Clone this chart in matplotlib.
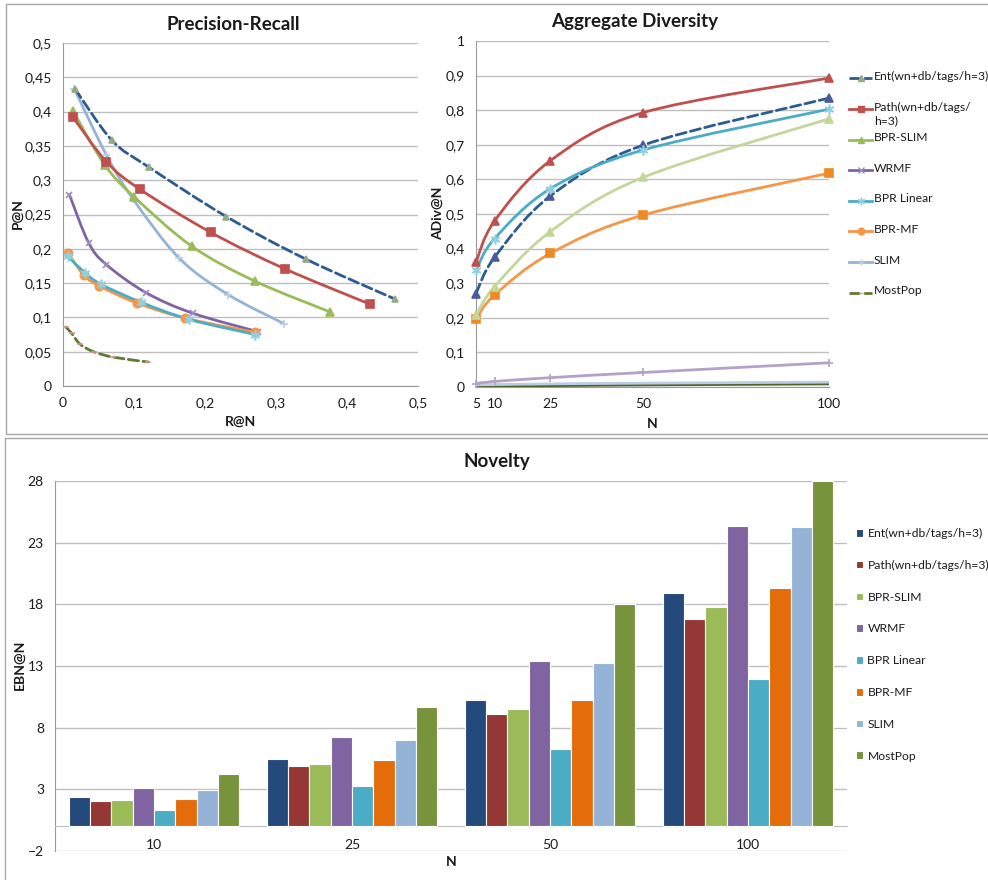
import numpy as np
import matplotlib.pyplot as plt
from matplotlib.path import Path
from matplotlib.patches import PathPatch, Rectangle
from matplotlib.lines import Line2D
from matplotlib.ticker import FuncFormatter

plt.rcParams['font.family'] = ['Lato', 'DejaVu Sans']

names = ['Ent(wn+db/tags/h=3)', 'Path(wn+db/tags/h=3)', 'BPR-SLIM', 'WRMF',
         'BPR Linear', 'BPR-MF', 'SLIM', 'MostPop']

# precision / recall pairs
rec_ent = [0.017, 0.069, 0.121, 0.230, 0.342, 0.467]
prec_ent = [0.433, 0.358, 0.319, 0.247, 0.185, 0.127]
rec_path = [0.014, 0.061, 0.108, 0.208, 0.312, 0.433]
prec_path = [0.392, 0.327, 0.287, 0.224, 0.171, 0.119]
rec_bprslim = [0.014, 0.059, 0.100, 0.181, 0.270, 0.376]
prec_bprslim = [0.401, 0.322, 0.276, 0.204, 0.153, 0.108]
rec_wrmf = [0.009, 0.036, 0.061, 0.117, 0.183, 0.275]
prec_wrmf = [0.279, 0.209, 0.177, 0.136, 0.106, 0.079]
rec_bprlin = [0.007, 0.031, 0.054, 0.110, 0.178, 0.271]
prec_bprlin = [0.189, 0.165, 0.148, 0.122, 0.097, 0.075]
rec_bprmf = [0.007, 0.029, 0.051, 0.104, 0.172, 0.271]
prec_bprmf = [0.194, 0.162, 0.146, 0.121, 0.099, 0.078]
rec_slim = [0.016, 0.061, 0.099, 0.164, 0.233, 0.311]
prec_slim = [0.433, 0.337, 0.272, 0.186, 0.133, 0.091]
rec_pop = [0.004, 0.012, 0.024, 0.043, 0.071, 0.120]
prec_pop = [0.086, 0.077, 0.061, 0.050, 0.042, 0.035]

# aggregate diversity
n_vals = [5, 10, 25, 50, 100]
adiv_ent = [0.270, 0.375, 0.552, 0.699, 0.835]
adiv_path = [0.360, 0.480, 0.654, 0.793, 0.893]
adiv_bprslim = [0.208, 0.290, 0.449, 0.606, 0.775]
adiv_wrmf = [0.010, 0.016, 0.027, 0.042, 0.070]
adiv_bprlin = [0.338, 0.429, 0.573, 0.685, 0.803]
adiv_bprmf = [0.197, 0.266, 0.386, 0.497, 0.618]
adiv_slim = [0.006, 0.007, 0.009, 0.011, 0.014]
adiv_pop = [0.002, 0.003, 0.004, 0.006, 0.009]

# novelty (EBN@N), one list per N, methods in the order of names
groups = ['10', '25', '50', '100']
ebn_10 = [2.35, 2.08, 2.14, 3.11, 1.35, 2.22, 2.98, 4.22]
ebn_25 = [5.46, 4.87, 5.06, 7.22, 3.27, 5.38, 7.03, 9.71]
ebn_50 = [10.25, 9.09, 9.52, 13.39, 6.30, 10.28, 13.28, 17.99]
ebn_100 = [18.88, 16.80, 17.80, 24.34, 11.98, 19.31, 24.24, 28.0]

# line styles: color, linestyle, marker, marker size, marker color
pr_style = [
    ('#2b5c8f', '--', '^', 5, '#93a98a'),
    ('#c0504d', '-', 's', 6, '#c0504d'),
    ('#9bbb59', '-', '^', 6, '#9bbb59'),
    ('#8064a2', '-', 'x', 5, '#a08cc0'),
    ('#4bacc6', '-', (6, 2, 0), 7, '#8fd0e2'),
    ('#f79646', '-', 'o', 6, '#f79646'),
    ('#95b3d7', '-', '+', 6, '#b9cde5'),
    ('#5f7a30', '--', '_', 4, '#d99694'),
]
adiv_style = [
    ('#2b5c8f', '--', '^', 6, '#4a5a9c'),
    ('#c0504d', '-', '^', 6, '#c0504d'),
    ('#c3d69b', '-', '^', 6, '#c3d69b'),
    ('#b3a2c7', '-', '+', 6, '#b3a2c7'),
    ('#4bacc6', '-', (6, 2, 0), 7, '#8fd0e2'),
    ('#f79646', '-', 's', 6, '#f08a24'),
    ('#b9cde5', '-', None, 0, '#b9cde5'),
    ('#4f6228', '-', None, 0, '#4f6228'),
]
bar_colors = ['#244a7c', '#953735', '#9bbb59', '#8064a2',
              '#4bacc6', '#e46c0a', '#95b3d7', '#77933c']

grid_c = '#bfbfbf'
axis_c = '#9a9a9a'
text_c = '#1a1a1a'
leg_fs = 8.7


def smooth_path(x, y):
    # Catmull-Rom curve through the points, written as cubic Bezier pieces
    p = np.column_stack([x, y]).astype(float)
    ext = np.vstack([p[0], p, p[-1]])
    verts = [p[0]]
    codes = [Path.MOVETO]
    for i in range(len(p) - 1):
        p0, p1, p2, p3 = ext[i], ext[i + 1], ext[i + 2], ext[i + 3]
        verts += [p1 + (p2 - p0) / 6.0, p2 - (p3 - p1) / 6.0, p2]
        codes += [Path.CURVE4] * 3
    return Path(verts, codes)


def draw_series(ax, x, y, st, lw=2.0):
    col, ls, mk, ms, mc = st
    ax.add_patch(PathPatch(smooth_path(x, y), fill=False, edgecolor=col,
                           lw=lw, linestyle=ls, capstyle='round', zorder=3))
    if mk is not None:
        ax.plot(x, y, linestyle='none', marker=mk, ms=ms, color=mc,
                mec=mc, mew=1.2, zorder=4, clip_on=False)


def comma(v, pos):
    s = '%g' % round(v, 3)
    return s.replace('.', ',')


def style_axes(ax):
    for s in ['top', 'right']:
        ax.spines[s].set_visible(False)
    ax.spines['left'].set_color(axis_c)
    ax.spines['bottom'].set_color(axis_c)
    ax.grid(axis='y', color=grid_c, lw=1)
    ax.set_axisbelow(True)
    ax.tick_params(length=0, labelsize=10, colors=text_c, pad=8)


fig = plt.figure(figsize=(9.88, 8.8), dpi=100)
W, H = 988.0, 880.0


def px_axes(l, t, r, b):
    return fig.add_axes([l / W, 1 - b / H, (r - l) / W, (b - t) / H])


# panel frames
fig.add_artist(Rectangle((6 / W, 1 - 434 / H), 1.2, 430 / H, transform=fig.transFigure,
                         fill=False, edgecolor='#a6a6a6', lw=1))
fig.add_artist(Rectangle((5 / W, -0.1), 1.2, 1 - 438 / H + 0.1, transform=fig.transFigure,
                         fill=False, edgecolor='#a6a6a6', lw=1))

# ---- Precision-Recall ----
ax1 = px_axes(63, 43, 418, 386)
pr_x = [rec_ent, rec_path, rec_bprslim, rec_wrmf, rec_bprlin, rec_bprmf, rec_slim, rec_pop]
pr_y = [prec_ent, prec_path, prec_bprslim, prec_wrmf, prec_bprlin, prec_bprmf, prec_slim, prec_pop]
order = [7, 3, 5, 4, 6, 2, 1, 0]
for i in order:
    draw_series(ax1, pr_x[i], pr_y[i], pr_style[i])
ax1.set_xlim(0, 0.5)
ax1.set_ylim(0, 0.5)
ax1.set_xticks(np.arange(0, 0.51, 0.1))
ax1.set_yticks(np.arange(0, 0.51, 0.05))
ax1.xaxis.set_major_formatter(FuncFormatter(comma))
ax1.yaxis.set_major_formatter(FuncFormatter(comma))
style_axes(ax1)
ax1.set_xlabel('R@N', fontsize=10, fontweight='bold', color=text_c)
ax1.set_ylabel('P@N', fontsize=10, fontweight='bold', color=text_c)
ax1.xaxis.set_label_coords(0.4986, -0.105)
ax1.yaxis.set_label_coords(-0.127, 0.504)
ax1.xaxis.label.set_va('center')
ax1.yaxis.label.set_va('center')
fig.text(233 / W, 1 - 25 / H, 'Precision-Recall', ha='center', va='center',
         fontsize=13.5, fontweight='bold', color=text_c)

# ---- Aggregate Diversity ----
ax2 = px_axes(476, 41, 829, 387)
adiv = [adiv_ent, adiv_path, adiv_bprslim, adiv_wrmf, adiv_bprlin, adiv_bprmf, adiv_slim, adiv_pop]
for i in [7, 6, 3, 5, 2, 0, 4, 1]:
    draw_series(ax2, n_vals, adiv[i], adiv_style[i])
ax2.set_xlim(5, 100)
ax2.set_ylim(0, 1)
ax2.set_xticks(n_vals)
ax2.set_yticks(np.arange(0, 1.01, 0.1))
ax2.yaxis.set_major_formatter(FuncFormatter(comma))
style_axes(ax2)
ax2.set_xlabel('N', fontsize=10, fontweight='bold', color=text_c)
ax2.set_ylabel('ADiv@N', fontsize=10, fontweight='bold', color=text_c)
ax2.xaxis.set_label_coords(0.4986, -0.107)
ax2.yaxis.set_label_coords(-0.1076, 0.503)
ax2.xaxis.label.set_va('center')
ax2.yaxis.label.set_va('center')
fig.text(635 / W, 1 - 22 / H, 'Aggregate Diversity', ha='center', va='center',
         fontsize=13.5, fontweight='bold', color=text_c)

# legend for the two line charts
leg_labels = list(names)
leg_labels[1] = 'Path(wn+db/tags/\nh=3)'
for i, lab in enumerate(leg_labels):
    col, ls, mk, ms, mc = pr_style[i]
    yy = 1 - (78.5 + 30.6 * i) / H
    fig.add_artist(Line2D([849 / W, 860.5 / W, 872 / W], [yy, yy, yy], transform=fig.transFigure,
                          color=col, lw=2, linestyle=ls, marker=mk, ms=ms * 0.8,
                          mfc=mc, mec=mc, markevery=[1]))
    fig.text(874 / W, yy + 7.5 / H, lab, ha='left', va='top', fontsize=leg_fs,
             color=text_c, linespacing=1.25)

# ---- Novelty ----
ax3 = px_axes(55, 481, 847, 851)
ebn = np.array([ebn_10, ebn_25, ebn_50, ebn_100])
xpos = np.arange(len(groups))
bw = 0.1077
for j in range(len(names)):
    ax3.bar(xpos + (j - 3.5) * bw, ebn[:, j], width=bw, color=bar_colors[j],
            edgecolor='white', lw=0.8, label=names[j], zorder=3)
ax3.set_xlim(-0.5, 3.5)
ax3.set_ylim(-2, 28)
ax3.set_yticks(np.arange(-2, 29, 5))
ax3.set_xticks(xpos)
ax3.set_xticklabels(groups)
style_axes(ax3)
ax3.spines['bottom'].set_position(('data', 0))
ax3.spines['bottom'].set_color(grid_c)
ax3.tick_params(axis='x', pad=9)
ax3.set_xlabel('N', fontsize=10, fontweight='bold', color=text_c)
ax3.set_ylabel('EBN@N', fontsize=10, fontweight='bold', color=text_c)
ax3.xaxis.set_label_coords(0.5, -0.0297)
ax3.yaxis.set_label_coords(-0.0442, 0.503)
ax3.xaxis.label.set_va('center')
ax3.yaxis.label.set_va('center')
fig.text(497 / W, 1 - 461 / H, 'Novelty', ha='center', va='center',
         fontsize=13.5, fontweight='bold', color=text_c)
fig.legend(loc='upper left', bbox_to_anchor=(856 / W, 1 - 528 / H), frameon=False,
           fontsize=leg_fs, handlelength=0.6, handleheight=0.6, handletextpad=0.35,
           labelspacing=1.72, borderpad=0, borderaxespad=0, labelcolor=text_c)

fig.savefig('out.png', dpi=100)
